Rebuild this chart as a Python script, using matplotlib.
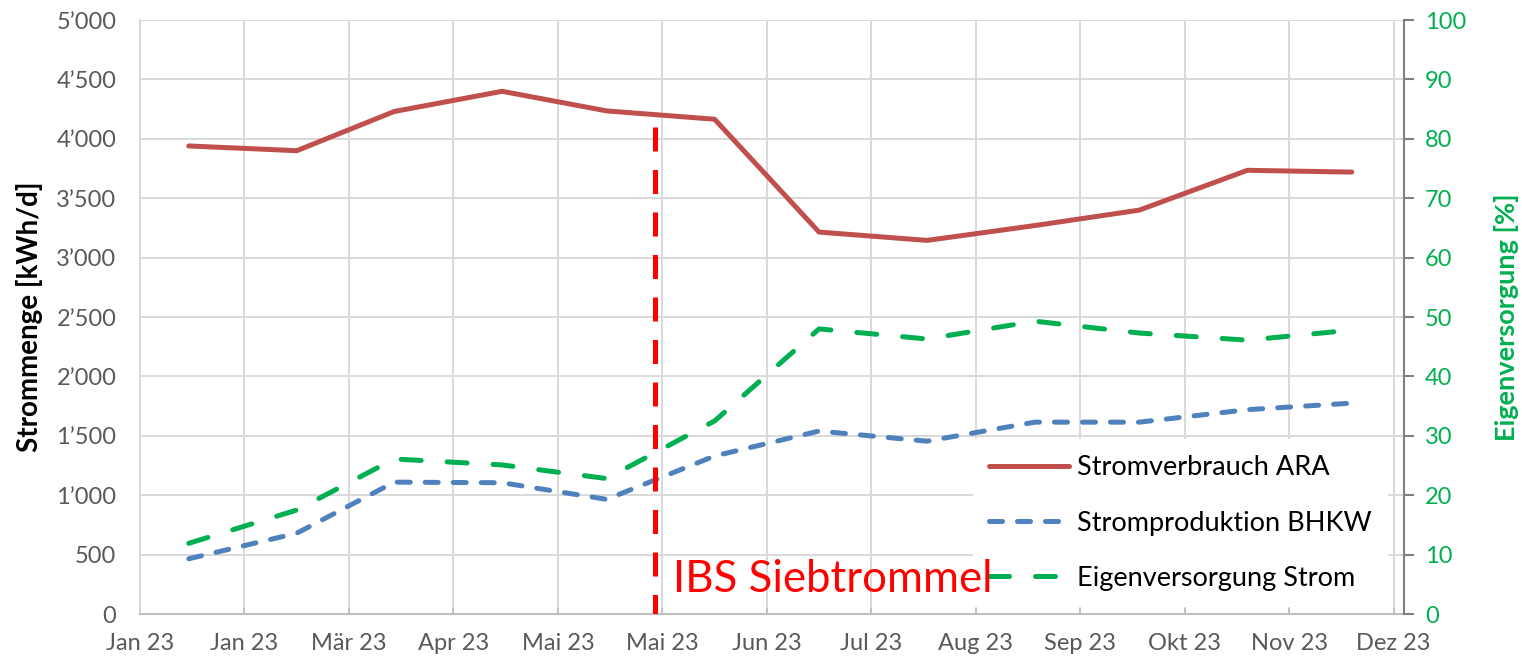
import matplotlib
matplotlib.use('Agg')
import matplotlib.pyplot as plt
from matplotlib.ticker import MultipleLocator, FuncFormatter
import pandas as pd

plt.rcParams['font.family'] = ['Lato', 'DejaVu Sans']

# Monatswerte (Mitte Monat)
monate = ['2023-01-15', '2023-02-15', '2023-03-15', '2023-04-15', '2023-05-15', '2023-06-15',
          '2023-07-15', '2023-08-15', '2023-09-15', '2023-10-15', '2023-11-15', '2023-12-15']
stromverbrauch = [3940, 3900, 4230, 4400, 4235, 4165, 3215, 3145, 3270, 3400, 3735, 3720]
stromproduktion = [465, 680, 1110, 1105, 965, 1330, 1540, 1455, 1615, 1615, 1720, 1775]
eigenversorgung = [11.9, 17.5, 26.1, 25.1, 22.8, 32.5, 48.0, 46.3, 49.3, 47.3, 46.1, 47.8]

tick_start = '2023-01-01'
tick_labels = ['Jan 23', 'Jan 23', 'Mär 23', 'Apr 23', 'Mai 23', 'Mai 23', 'Jun 23',
               'Jul 23', 'Aug 23', 'Sep 23', 'Okt 23', 'Nov 23', 'Dez 23']

ibs_datum = '2023-05-29'
ibs_hoehe = 4100
ibs_text = 'IBS Siebtrommel'

x = pd.to_datetime(monate)
ticks = pd.date_range(tick_start, periods=len(tick_labels), freq='30D')
ibs = pd.Timestamp(ibs_datum)

grau_text = '#595959'
gruen = '#00B050'

fig = plt.figure(figsize=(15.22, 6.61), dpi=100)
ax = fig.add_axes([0.092, 0.0711, 0.8305, 0.8986])
ax2 = ax.twinx()

l1, = ax.plot(x, stromverbrauch, color='#C0504D', lw=3.6, solid_capstyle='round',
              solid_joinstyle='round', label='Stromverbrauch ARA', zorder=3)
l2, = ax.plot(x, stromproduktion, color='#4F81BD', lw=3.6, dashes=(2.6, 3.0),
              dash_capstyle='round', dash_joinstyle='round', label='Stromproduktion BHKW', zorder=3)
# Inbetriebsetzung: gestrichelte Linie von oben nach unten
ax.plot([ibs, ibs], [ibs_hoehe, 0], color='#FF0000', lw=3.6, dashes=(4.8, 3.7),
        dash_capstyle='butt', zorder=4)
l3, = ax2.plot(x, eigenversorgung, color=gruen, lw=3.6, dashes=(4.0, 5.2),
               dash_capstyle='round', dash_joinstyle='round', label='Eigenversorgung Strom', zorder=3)

# Achsen
ax.set_xlim(pd.Timestamp(tick_start), pd.Timestamp(tick_start) + pd.Timedelta(days=363))
ax.set_xticks(ticks)
ax.set_xticklabels(tick_labels)
ax.set_ylim(0, 5000)
ax.yaxis.set_major_locator(MultipleLocator(500))
ax.yaxis.set_major_formatter(FuncFormatter(lambda v, p: f'{v:,.0f}'.replace(',', '\u2019')))
ax2.set_ylim(0, 100)
ax2.yaxis.set_major_locator(MultipleLocator(10))

ax.grid(True, color='#D9D9D9', lw=1.4)
ax.set_axisbelow(True)

ax.tick_params(axis='y', length=0, pad=17, labelsize=17, labelcolor=grau_text)
ax.tick_params(axis='x', direction='in', length=4, width=1.3, color='#BFBFBF', pad=14,
               labelsize=17, labelcolor=grau_text)
ax2.tick_params(axis='y', direction='out', length=7, width=1.5, color='#808080', pad=8,
                labelsize=17, labelcolor=gruen)

for s in ['top', 'right']:
    ax.spines[s].set_visible(False)
ax.spines['left'].set_color('#D9D9D9')
ax.spines['left'].set_linewidth(1.4)
ax.spines['bottom'].set_color('#BFBFBF')
ax.spines['bottom'].set_linewidth(1.5)
for s in ['top', 'left', 'bottom']:
    ax2.spines[s].set_visible(False)
ax2.spines['right'].set_color('#808080')
ax2.spines['right'].set_linewidth(1.5)

ax.set_ylabel('Strommenge [kWh/d]', fontsize=20, fontweight='bold', color='black')
ax.yaxis.set_label_coords(-0.0765, 0.5)
ax2.set_ylabel('Eigenversorgung [%]', fontsize=19.5, fontweight='bold', color=gruen)
ax2.yaxis.set_label_coords(1.071, 0.5)

leg = ax2.legend([l1, l2, l3], [l1.get_label(), l2.get_label(), l3.get_label()],
                 loc='center left', bbox_to_anchor=(0.648, 0.153), fontsize=19.5,
                 frameon=True, facecolor='white', edgecolor='none', framealpha=1,
                 fancybox=False, handlelength=2.95, handletextpad=0.3, labelspacing=1.12,
                 borderpad=0.6)
for t in leg.get_texts():
    t.set_color('black')

ax2.text(ibs + pd.Timedelta(days=5), 0.058, ibs_text, transform=ax2.get_xaxis_transform(),
         color='#FF0000', fontsize=31.5, ha='left', va='center', zorder=10)

fig.savefig('out.png', dpi=100)
